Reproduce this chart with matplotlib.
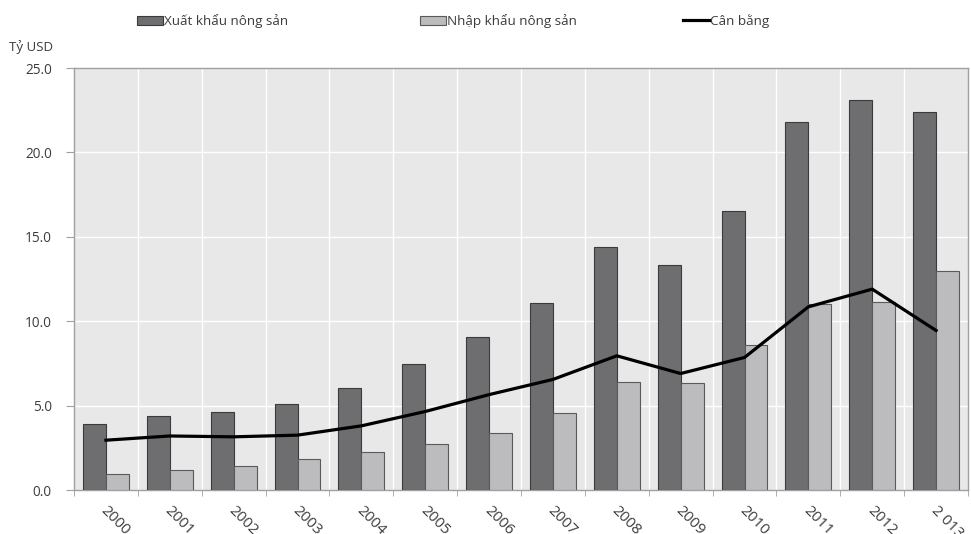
import matplotlib
matplotlib.use("Agg")
import matplotlib.pyplot as plt
from matplotlib.patches import Patch
from matplotlib.lines import Line2D
import numpy as np

plt.rcParams['font.family'] = ['Open Sans', 'DejaVu Sans']

years = ["2000", "2001", "2002", "2003", "2004", "2005", "2006",
         "2007", "2008", "2009", "2010", "2011", "2012", "2 013"]
exports = [3.9, 4.4, 4.6, 5.1, 6.05, 7.45, 9.05, 11.1, 14.4, 13.3, 16.5, 21.8, 23.1, 22.4]
imports = [0.95, 1.2, 1.42, 1.82, 2.25, 2.75, 3.36, 4.56, 6.42, 6.33, 8.6, 11.0, 11.15, 12.95]
balance = [2.95, 3.2, 3.15, 3.25, 3.8, 4.65, 5.65, 6.55, 7.95, 6.9, 7.85, 10.85, 11.9, 9.45]
yticks = [0.0, 5.0, 10.0, 15.0, 20.0, 25.0]

export_color = "#6e6e70"
import_color = "#bcbcbe"
bg_color = "#e8e8e9"
text_color = "#3c3c3c"
spine_color = "#a0a0a0"

fig = plt.figure(figsize=(9.71, 5.34), dpi=100)
ax = fig.add_axes([74 / 971, 44 / 534, 894 / 971, 422 / 534])
ax.set_facecolor(bg_color)

x = np.arange(len(years))
w = 0.36
ax.bar(x - w / 2, exports, width=w, color=export_color, edgecolor="#3a3a3a",
       linewidth=0.8, zorder=3)
ax.bar(x + w / 2, imports, width=w, color=import_color, edgecolor="#5a5a5a",
       linewidth=0.8, zorder=3)
ax.plot(x, balance, color="black", linewidth=2.3, zorder=4)

ax.set_xlim(-0.5, len(years) - 0.5)
ax.set_ylim(0, 25)

# grid: white lines at category boundaries and value ticks
for b in np.arange(-0.5, len(years) + 0.5, 1.0)[1:-1]:
    ax.axvline(b, color="white", linewidth=1.0, zorder=1)
for v in yticks[1:-1]:
    ax.axhline(v, color="white", linewidth=1.0, zorder=1)

ax.set_yticks(yticks)
ax.set_yticklabels([f"{v:.1f}" for v in yticks], fontsize=9.8, color=text_color)
ax.tick_params(axis="y", length=6, color=spine_color, pad=10)

ax.set_xticks(x)
ax.set_xticklabels([])
ax.tick_params(axis="x", which="major", length=0)
ax.set_xticks(np.arange(-0.5, len(years), 1.0), minor=True)
ax.tick_params(axis="x", which="minor", length=4.5, color=spine_color)

for xi, lab in zip(x, years):
    ax.annotate(lab, xy=(xi, 0), xycoords="data", xytext=(-2, -13),
                textcoords="offset points", rotation=-45, rotation_mode="anchor",
                ha="left", va="center", fontsize=11, color=text_color)

for s in ax.spines.values():
    s.set_color(spine_color)
    s.set_linewidth(1.0)

fig.text(9 / 971, 1 - 47 / 534, "Tỷ USD", fontsize=9.5, color=text_color, va="center")

# legend entries placed individually along the top
entries = [
    (Patch(facecolor=export_color, edgecolor="#3a3a3a", linewidth=0.8), "Xuất khẩu nông sản", 137),
    (Patch(facecolor=import_color, edgecolor="#5a5a5a", linewidth=0.8), "Nhập khẩu nông sản", 420),
    (Line2D([0], [0], color="black", linewidth=2.3), "Cân bằng", 683),
]
for handle, label, px in entries:
    leg = fig.legend([handle], [label], loc="center left",
                     bbox_to_anchor=(px / 971, 1 - 21 / 534), frameon=False,
                     fontsize=9.7, handlelength=1.9, handleheight=0.7,
                     handletextpad=0.1, borderpad=0, borderaxespad=0,
                     labelcolor=text_color)

fig.savefig("out.png", dpi=100, facecolor="white")
